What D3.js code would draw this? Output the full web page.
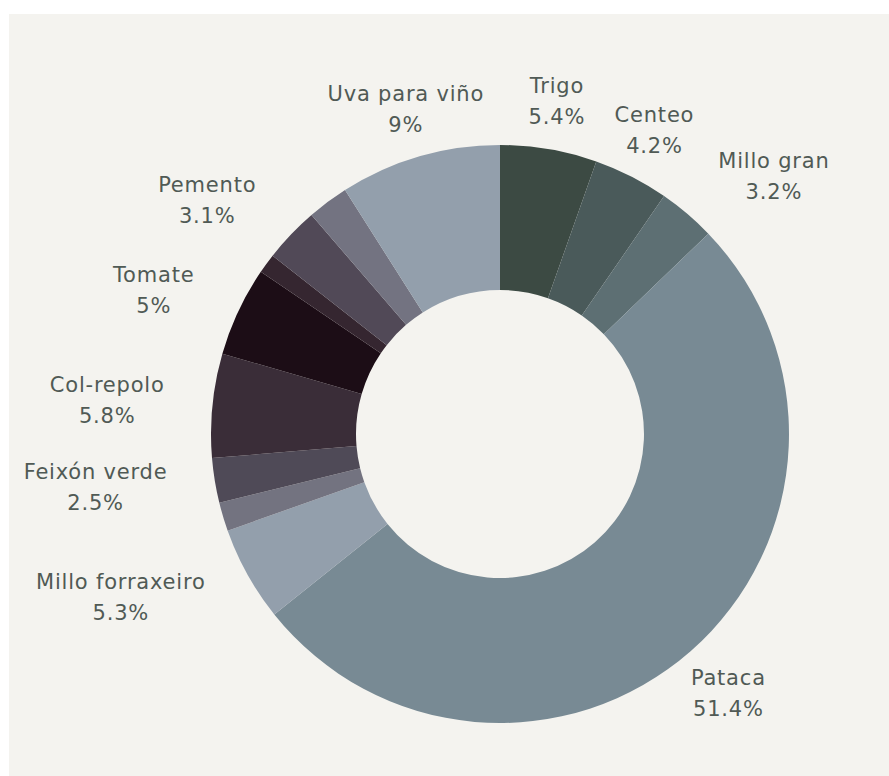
<!DOCTYPE html>
<html>
<head>
<meta charset="utf-8">
<script src="https://cdn.jsdelivr.net/npm/d3@7"></script>
<style>
  html, body { margin: 0; padding: 0; background: #ffffff; }
  svg { display: block; }
  .lbl { font-family: "DejaVu Sans", sans-serif; font-size: 21px; letter-spacing: 0.8px; fill: #505a55; }
</style>
</head>
<body>
<svg id="chart" width="889" height="776"></svg>
<script>
// Crop shares (%), clockwise from twelve o'clock
const categories = [
  "Trigo", "Centeo", "Millo gran", "Pataca", "Millo forraxeiro", "Cebola",
  "Feixón verde", "Col-repolo", "Tomate", "Allo", "Pemento", "Leituga", "Uva para viño"
];
const shares = [5.4, 4.2, 3.2, 51.4, 5.3, 1.6, 2.5, 5.8, 5, 1.1, 3.1, 2.3, 9];
const sliceColors = [
  "#3c4a43", "#4a5a5a", "#5d6f73", "#788a94", "#939fac", "#737380",
  "#4f4a57", "#3a2d38", "#1c0d16", "#352630", "#514957", "#737381", "#939fac"
];
// Slices below this share are left without a label
const labelThreshold = 2.5;

const data = categories.map((name, i) => ({ name, value: shares[i], color: sliceColors[i] }));

const width = 889, height = 776;
const cx = 500, cy = 434;
const rOuter = 289, rInner = 144;
const rVert = 305, rSide = 337;       // label anchor radii
const lineGap = 31, ascentOff = 22;   // two-line label metrics

const svg = d3.select("#chart");

// panel background
svg.append("rect")
  .attr("x", 9).attr("y", 14)
  .attr("width", width - 9).attr("height", height - 14)
  .attr("fill", "#f4f3ef");

const g = svg.append("g").attr("transform", `translate(${cx},${cy})`);

const pie = d3.pie().sort(null).value(d => d.value);
const arc = d3.arc().innerRadius(rInner).outerRadius(rOuter);
const arcs = pie(data);

g.selectAll("path.slice")
  .data(arcs)
  .join("path")
  .attr("class", "slice")
  .attr("d", arc)
  .attr("fill", d => d.data.color);

// labels: placed outside each slice, avoiding each other
const labelLayer = g.append("g");
const placed = [];
const overlaps = (a, b) => a.x0 < b.x1 && b.x0 < a.x1 && a.y0 < b.y1 && b.y0 < a.y1;

arcs.filter(a => a.data.value >= labelThreshold).forEach(a => {
  const th = (a.startAngle + a.endAngle) / 2;
  const ux = Math.sin(th), uy = -Math.cos(th);

  const t = labelLayer.append("text").attr("class", "lbl").attr("text-anchor", "middle");
  t.append("tspan").attr("x", 0).attr("y", 0).text(a.data.name);
  t.append("tspan").attr("x", 0).attr("y", lineGap).text(a.data.value + "%");

  const hw = t.node().getBBox().width / 2;
  const hh = lineGap;

  const boxAt = (c) => ({ x0: c[0] - hw, x1: c[0] + hw, y0: c[1] - hh, y1: c[1] + hh, cx: c[0], cy: c[1] });

  // box pushed outward from the anchor along the slice direction
  const vertBox = () => {
    const px = rVert * ux, py = rVert * uy;
    const tx = Math.abs(ux) > 1e-6 ? hw / Math.abs(ux) : Infinity;
    const ty = Math.abs(uy) > 1e-6 ? hh / Math.abs(uy) : Infinity;
    const d = Math.min(tx, ty);
    return boxAt([px + d * ux, py + d * uy]);
  };
  // box aligned beside the anchor, vertically centred
  const sideBox = () => {
    const px = rSide * ux, py = rSide * uy;
    return boxAt([ux >= 0 ? px + hw : px - hw, py]);
  };

  const vertical = Math.abs(uy) > Math.abs(ux);
  let box = vertical ? vertBox() : sideBox();
  if (vertical && placed.some(b => overlaps(b, box))) box = sideBox();
  placed.push(box);

  t.attr("transform", `translate(${box.cx},${box.cy - hh + ascentOff})`);
});
</script>
</body>
</html>
